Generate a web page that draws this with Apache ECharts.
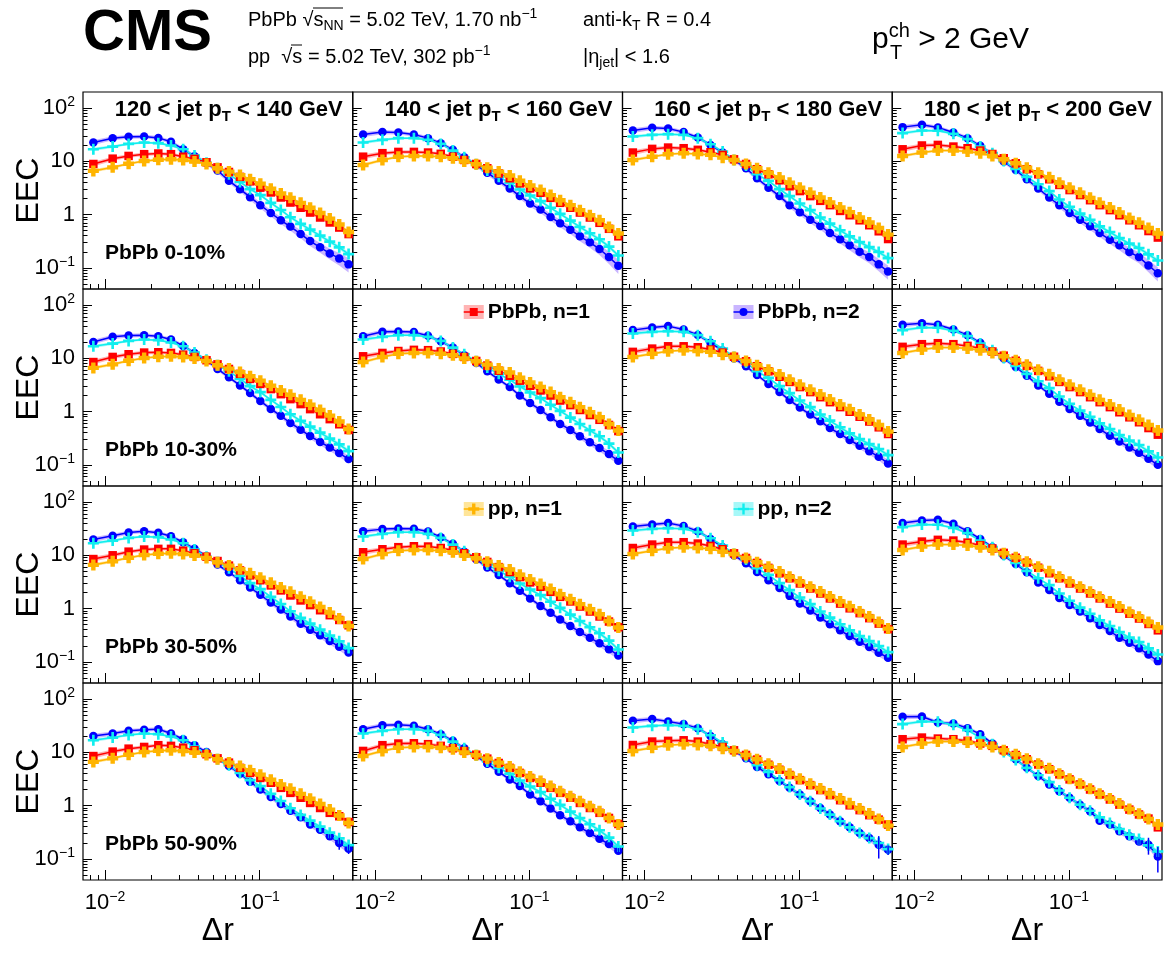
<!DOCTYPE html>
<html>
<head>
<meta charset="utf-8">
<script src="https://cdn.jsdelivr.net/npm/echarts@6/dist/echarts.min.js"></script>
<style>
html,body{margin:0;padding:0;background:#fff;}
#chart{width:1168px;height:954px;}
</style>
</head>
<body>
<div id="chart"></div>
<script>
// ---------------- data ----------------
const dr = [0.0084, 0.0112, 0.0142, 0.0179, 0.0221, 0.0267, 0.0320, 0.0379, 0.0453, 0.0534, 0.0633, 0.0746, 0.0867, 0.101, 0.118, 0.137, 0.158, 0.184, 0.212, 0.246, 0.284, 0.327, 0.376];
const jetPtLow = [120, 140, 160, 180];
const jetPtHigh = [140, 160, 180, 200];
const centralityBins = ['0-10%', '10-30%', '30-50%', '50-90%'];
const xRange = [0.0072, 0.4];
const yRange = [0.04, 200];
const xMajorTicks = [0.01, 0.1];
const xMinorTicks = [0.008, 0.009, 0.02, 0.03, 0.04, 0.05, 0.06, 0.07, 0.08, 0.09, 0.2, 0.3];
const yMajorTicks = [0.1, 1, 10, 100];
const yMinorTicks = [0.05, 0.06, 0.07, 0.08, 0.09, 0.2, 0.3, 0.4, 0.5, 0.6, 0.7, 0.8, 0.9, 2, 3, 4, 5, 6, 7, 8, 9, 20, 30, 40, 50, 60, 70, 80, 90];

// pp reference (same in every centrality row)
const ppN1_pt120 = [6.6, 7.7, 9.0, 10.1, 10.7, 10.9, 10.6, 9.9, 8.9, 7.4, 6.4, 5.5, 4.6, 3.8, 3.05, 2.49, 2.06, 1.66, 1.34, 1.07, 0.84, 0.65, 0.47];
const ppN2_pt120 = [16.8, 18.9, 21.2, 22.5, 21.9, 19.8, 16.8, 12.8, 9.4, 7.4, 5.7, 4.1, 3.0, 2.32, 1.66, 1.22, 0.89, 0.667, 0.521, 0.402, 0.310, 0.242, 0.181];
const ppN1_pt140 = [8.5, 10.6, 12.2, 12.6, 12.6, 12.2, 11.4, 9.9, 8.8, 7.6, 6.4, 5.4, 4.3, 3.5, 2.9, 2.32, 1.86, 1.50, 1.21, 0.97, 0.78, 0.585, 0.44];
const ppN2_pt140 = [22.5, 25.3, 27.2, 27.2, 25.3, 21.2, 15.9, 11.9, 8.8, 6.7, 5.1, 3.96, 2.96, 2.28, 1.79, 1.34, 1.03, 0.77, 0.585, 0.445, 0.343, 0.25, 0.17];
const ppN1_pt160 = [10.6, 12.2, 13.6, 14.2, 13.7, 13.2, 11.7, 10.6, 8.9, 7.4, 6.1, 4.95, 3.96, 3.2, 2.56, 2.09, 1.68, 1.36, 1.11, 0.88, 0.71, 0.56, 0.42];
const ppN2_pt160 = [29.2, 31.4, 32.3, 31.4, 27.2, 20.9, 15.2, 10.6, 8.3, 5.7, 4.3, 3.0, 2.22, 1.61, 1.21, 0.88, 0.676, 0.506, 0.390, 0.305, 0.245, 0.198, 0.152];
const ppN1_pt180 = [12.6, 14.6, 15.9, 15.9, 15.2, 14.2, 12.6, 10.9, 9.2, 7.6, 6.1, 5.0, 3.96, 3.2, 2.56, 2.06, 1.66, 1.36, 1.09, 0.86, 0.70, 0.56, 0.44];
const ppN2_pt180 = [33.8, 37.9, 37.4, 32.8, 26.0, 18.9, 14.2, 10.1, 7.2, 5.1, 3.7, 2.76, 1.92, 1.40, 1.04, 0.80, 0.60, 0.47, 0.363, 0.284, 0.235, 0.179, 0.137];

// PbPb n=1
const pbpbN1_0_10_pt120 = [8.9, 11.2, 12.6, 13.6, 14.0, 13.6, 12.2, 11.1, 9.6, 7.7, 6.3, 5.1, 4.2, 3.2, 2.6, 2.09, 1.68, 1.34, 1.09, 0.88, 0.71, 0.57, 0.43];
const pbpbN1_0_10_pt140 = [12.2, 14.2, 15.0, 15.0, 14.6, 13.8, 12.2, 10.6, 8.9, 7.4, 5.9, 4.8, 3.85, 3.1, 2.56, 2.06, 1.66, 1.34, 1.09, 0.88, 0.70, 0.54, 0.39];
const pbpbN1_0_10_pt160 = [14.6, 17.1, 18.1, 17.6, 16.4, 14.8, 13.2, 10.9, 8.9, 7.1, 5.7, 4.4, 3.4, 2.76, 2.22, 1.81, 1.50, 1.17, 0.97, 0.78, 0.63, 0.485, 0.347];
const pbpbN1_0_10_pt180 = [16.8, 19.8, 20.3, 18.9, 17.6, 15.9, 13.7, 11.4, 9.2, 7.1, 5.7, 4.6, 3.6, 2.88, 2.32, 1.86, 1.50, 1.21, 0.97, 0.78, 0.63, 0.49, 0.37];
const pbpbN1_10_30_pt120 = [8.5, 10.6, 11.9, 12.8, 13.0, 12.6, 11.7, 10.6, 9.2, 7.7, 6.3, 5.1, 4.1, 3.3, 2.64, 2.12, 1.71, 1.38, 1.11, 0.89, 0.72, 0.577, 0.451];
const pbpbN1_10_30_pt140 = [10.9, 12.6, 13.7, 14.4, 14.2, 13.4, 12.1, 10.6, 8.9, 7.3, 5.85, 4.7, 3.8, 3.05, 2.49, 2.00, 1.61, 1.32, 1.07, 0.86, 0.70, 0.56, 0.43];
const pbpbN1_10_30_pt160 = [13.2, 15.2, 16.8, 16.8, 16.1, 14.6, 12.8, 10.7, 8.8, 7.1, 5.7, 4.5, 3.6, 2.88, 2.32, 1.86, 1.50, 1.21, 0.99, 0.80, 0.65, 0.506, 0.379];
const pbpbN1_10_30_pt180 = [16.4, 18.4, 19.2, 18.4, 17.1, 15.5, 13.4, 11.2, 9.0, 7.2, 5.8, 4.6, 3.6, 2.88, 2.32, 1.86, 1.50, 1.21, 0.97, 0.78, 0.63, 0.49, 0.368];
const pbpbN1_30_50_pt120 = [8.5, 10.0, 11.7, 12.8, 13.2, 13.2, 12.2, 10.9, 9.4, 7.8, 6.4, 5.2, 4.2, 3.4, 2.72, 2.19, 1.76, 1.42, 1.16, 0.93, 0.75, 0.61, 0.485];
const pbpbN1_30_50_pt140 = [11.4, 13.0, 14.2, 14.8, 14.6, 13.7, 12.4, 10.9, 9.2, 7.5, 6.0, 4.85, 3.9, 3.1, 2.56, 2.06, 1.66, 1.36, 1.09, 0.88, 0.71, 0.57, 0.445];
const pbpbN1_30_50_pt160 = [13.7, 15.9, 17.6, 17.6, 16.6, 15.0, 13.0, 10.9, 8.9, 7.2, 5.8, 4.6, 3.7, 2.96, 2.38, 1.92, 1.55, 1.24, 1.01, 0.82, 0.66, 0.521, 0.41];
const pbpbN1_30_50_pt180 = [15.9, 18.1, 19.5, 18.9, 17.3, 15.5, 13.4, 11.1, 9.0, 7.3, 5.85, 4.6, 3.7, 2.96, 2.38, 1.92, 1.55, 1.24, 1.00, 0.80, 0.65, 0.514, 0.39];
const pbpbN1_50_90_pt120 = [8.5, 10.3, 11.7, 12.6, 13.6, 13.2, 12.2, 10.9, 9.2, 7.7, 6.4, 5.1, 4.1, 3.3, 2.68, 2.15, 1.73, 1.40, 1.12, 0.90, 0.73, 0.63, 0.49];
const pbpbN1_50_90_pt140 = [10.6, 13.6, 14.6, 14.8, 14.2, 13.2, 11.9, 10.6, 9.0, 7.6, 6.3, 5.1, 4.1, 3.3, 2.68, 2.15, 1.73, 1.40, 1.12, 0.90, 0.73, 0.585, 0.451];
const pbpbN1_50_90_pt160 = [13.7, 15.9, 16.4, 16.8, 15.9, 14.2, 12.6, 10.9, 8.9, 7.3, 5.85, 4.7, 3.75, 3.0, 2.42, 1.95, 1.57, 1.26, 1.01, 0.82, 0.66, 0.544, 0.44];
const pbpbN1_50_90_pt180 = [17.6, 18.9, 18.1, 17.6, 16.4, 14.6, 13.2, 10.9, 8.9, 7.4, 5.9, 4.8, 3.85, 3.1, 2.49, 2.00, 1.61, 1.30, 1.04, 0.84, 0.68, 0.57, 0.39];

// PbPb n=2
const pbpbN2_0_10_pt120 = [22.5, 27.2, 28.8, 29.2, 27.5, 23.2, 16.8, 12.4, 9.3, 6.7, 4.3, 3.0, 2.12, 1.50, 1.07, 0.78, 0.594, 0.432, 0.318, 0.242, 0.186, 0.150, 0.116];
const pbpbN2_0_10_pt140 = [31.8, 35.3, 34.7, 31.8, 27.2, 21.9, 16.4, 11.9, 8.5, 6.1, 4.3, 3.1, 2.22, 1.61, 1.24, 0.90, 0.686, 0.521, 0.390, 0.301, 0.225, 0.159, 0.109];
const pbpbN2_0_10_pt160 = [37.9, 42.6, 41.3, 35.3, 28.0, 20.3, 14.6, 10.6, 7.4, 4.8, 3.2, 2.22, 1.50, 1.11, 0.80, 0.611, 0.451, 0.343, 0.264, 0.200, 0.159, 0.116, 0.085];
const pbpbN2_0_10_pt180 = [43.8, 48.5, 43.2, 34.7, 27.2, 19.5, 13.7, 9.9, 6.9, 4.6, 3.1, 2.09, 1.50, 1.07, 0.80, 0.60, 0.45, 0.337, 0.264, 0.198, 0.159, 0.111, 0.079];
const pbpbN2_10_30_pt120 = [20.3, 25.3, 26.8, 27.2, 26.0, 22.5, 17.1, 12.6, 9.2, 6.3, 4.4, 3.1, 2.22, 1.57, 1.12, 0.83, 0.61, 0.457, 0.347, 0.268, 0.212, 0.166, 0.128];
const pbpbN2_10_30_pt140 = [26.0, 31.4, 31.8, 31.0, 26.4, 20.9, 15.9, 11.4, 8.2, 5.7, 4.0, 2.88, 2.00, 1.44, 1.07, 0.78, 0.585, 0.451, 0.343, 0.264, 0.206, 0.159, 0.119];
const pbpbN2_10_30_pt160 = [33.8, 37.9, 40.2, 34.7, 27.5, 19.5, 14.0, 10.0, 7.1, 4.85, 3.3, 2.32, 1.64, 1.19, 0.88, 0.66, 0.49, 0.379, 0.292, 0.228, 0.179, 0.142, 0.106];
const pbpbN2_10_30_pt180 = [42.6, 45.7, 42.6, 34.7, 27.2, 19.5, 13.7, 9.9, 6.9, 4.7, 3.1, 2.15, 1.52, 1.12, 0.83, 0.62, 0.47, 0.352, 0.275, 0.212, 0.168, 0.130, 0.100];
const pbpbN2_30_50_pt120 = [19.8, 23.2, 26.8, 28.4, 26.4, 22.8, 17.6, 13.2, 9.6, 6.7, 4.8, 3.4, 2.49, 1.81, 1.30, 0.96, 0.71, 0.521, 0.40, 0.314, 0.245, 0.192, 0.150];
const pbpbN2_30_50_pt140 = [28.4, 31.0, 31.8, 31.4, 28.0, 21.9, 16.4, 11.7, 8.4, 5.9, 4.25, 3.0, 2.15, 1.55, 1.12, 0.83, 0.62, 0.47, 0.363, 0.284, 0.222, 0.173, 0.132];
const pbpbN2_30_50_pt160 = [34.7, 37.9, 40.2, 35.3, 28.4, 20.3, 14.2, 10.0, 7.1, 4.85, 3.4, 2.42, 1.73, 1.24, 0.92, 0.68, 0.506, 0.39, 0.305, 0.238, 0.189, 0.148, 0.119];
const pbpbN2_30_50_pt180 = [40.2, 45.1, 46.4, 39.0, 28.4, 20.3, 14.2, 9.9, 6.9, 4.8, 3.1, 2.22, 1.57, 1.17, 0.88, 0.66, 0.49, 0.379, 0.284, 0.228, 0.179, 0.137, 0.103];
const pbpbN2_50_90_pt120 = [20.3, 22.5, 25.3, 26.4, 27.2, 22.5, 17.6, 13.6, 10.1, 7.7, 5.5, 3.96, 2.80, 2.00, 1.44, 1.07, 0.80, 0.60, 0.44, 0.352, 0.264, 0.198, 0.154];
const pbpbN2_50_90_pt140 = [27.2, 32.3, 32.8, 31.4, 27.2, 21.9, 16.4, 11.9, 8.5, 6.1, 4.3, 3.1, 2.32, 1.61, 1.21, 0.88, 0.66, 0.506, 0.39, 0.305, 0.238, 0.189, 0.142];
const pbpbN2_50_90_pt160 = [39.0, 42.0, 37.9, 33.8, 28.4, 20.3, 14.2, 10.6, 7.7, 5.3, 3.85, 2.88, 2.15, 1.61, 1.21, 0.90, 0.68, 0.506, 0.39, 0.305, 0.245, 0.184, 0.148];
const pbpbN2_50_90_pt180 = [46.4, 47.0, 36.3, 34.7, 28.4, 21.9, 14.6, 10.6, 7.4, 5.1, 3.6, 2.49, 1.86, 1.40, 1.04, 0.78, 0.521, 0.44, 0.328, 0.264, 0.212, 0.184, 0.111];

// relative statistical errors visible in the 50-90% PbPb n=2 panels
const pbpbN2Err_50_90_pt120 = [0,0,0,0,0,0,0,0,0,0,0,0,0,0,0,0,0,0,0,0,0.10,0.25,0.20];
const pbpbN2Err_50_90_pt140 = [0,0,0,0,0,0,0,0,0,0,0,0,0,0,0,0,0,0,0,0,0.06,0.10,0.12];
const pbpbN2Err_50_90_pt160 = [0,0,0,0,0,0,0,0,0,0,0,0,0,0,0,0,0,0,0,0,0.12,0.45,0.20];
const pbpbN2Err_50_90_pt180 = [0,0,0,0,0,0,0,0,0,0,0,0,0,0,0,0,0,0,0,0,0.12,0.35,0.50];

// relative systematic uncertainty (band half-width)
const sysPbpbN1 = [0.10,0.09,0.08,0.08,0.07,0.07,0.07,0.06,0.06,0.06,0.06,0.06,0.06,0.06,0.06,0.06,0.07,0.07,0.07,0.08,0.08,0.09,0.10];
const sysPbpbN2 = [0.10,0.09,0.08,0.08,0.08,0.08,0.08,0.08,0.08,0.08,0.08,0.08,0.09,0.09,0.10,0.10,0.11,0.11,0.12,0.13,0.14,0.15,0.17];
const sysPbpbN2Central = [0.10,0.09,0.08,0.08,0.08,0.08,0.08,0.09,0.09,0.10,0.10,0.11,0.12,0.13,0.14,0.15,0.16,0.17,0.19,0.21,0.23,0.26,0.30];
const sysPpN1 = [0.07,0.06,0.05,0.05,0.05,0.05,0.05,0.05,0.05,0.05,0.05,0.05,0.05,0.05,0.05,0.05,0.05,0.05,0.05,0.06,0.06,0.07,0.08];
const sysPpN2 = [0.07,0.06,0.05,0.05,0.05,0.05,0.05,0.05,0.05,0.05,0.05,0.05,0.06,0.06,0.06,0.06,0.06,0.07,0.07,0.07,0.08,0.08,0.09];

// ---------------- assembly ----------------
const ppN1 = [ppN1_pt120, ppN1_pt140, ppN1_pt160, ppN1_pt180];
const ppN2 = [ppN2_pt120, ppN2_pt140, ppN2_pt160, ppN2_pt180];
const pbpbN1 = [
  [pbpbN1_0_10_pt120, pbpbN1_0_10_pt140, pbpbN1_0_10_pt160, pbpbN1_0_10_pt180],
  [pbpbN1_10_30_pt120, pbpbN1_10_30_pt140, pbpbN1_10_30_pt160, pbpbN1_10_30_pt180],
  [pbpbN1_30_50_pt120, pbpbN1_30_50_pt140, pbpbN1_30_50_pt160, pbpbN1_30_50_pt180],
  [pbpbN1_50_90_pt120, pbpbN1_50_90_pt140, pbpbN1_50_90_pt160, pbpbN1_50_90_pt180]
];
const pbpbN2 = [
  [pbpbN2_0_10_pt120, pbpbN2_0_10_pt140, pbpbN2_0_10_pt160, pbpbN2_0_10_pt180],
  [pbpbN2_10_30_pt120, pbpbN2_10_30_pt140, pbpbN2_10_30_pt160, pbpbN2_10_30_pt180],
  [pbpbN2_30_50_pt120, pbpbN2_30_50_pt140, pbpbN2_30_50_pt160, pbpbN2_30_50_pt180],
  [pbpbN2_50_90_pt120, pbpbN2_50_90_pt140, pbpbN2_50_90_pt160, pbpbN2_50_90_pt180]
];
const pbpbN2Err50_90 = [pbpbN2Err_50_90_pt120, pbpbN2Err_50_90_pt140, pbpbN2Err_50_90_pt160, pbpbN2Err_50_90_pt180];

const FONT = '"Liberation Sans", Arial, Helvetica, sans-serif';
const BLUE = '#0000ff', RED = '#ff0000', ORANGE = '#ffb400', CYAN = '#10eeee';
const BAND_BLUE = 'rgba(120,70,255,0.40)', BAND_RED = 'rgba(255,40,40,0.35)';
const BAND_ORANGE = 'rgba(255,190,0,0.40)', BAND_CYAN = 'rgba(0,235,235,0.35)';
const SYM_THICK = 'path://M3,0H7V3H10V7H7V10H3V7H0V3H3Z';
const SYM_THIN = 'path://M3.8,0H6.2V3.8H10V6.2H6.2V10H3.8V6.2H0V3.8H3.8Z';

const L0 = 83, T0 = 92, CW = 269.75, CH = 197;

function expLabel(v) {
  const e = Math.round(Math.log10(v));
  if (e === 0) return '{b|1}';
  if (e === 1) return '{b|10}';
  return '{b|10}{s|' + (e < 0 ? '\u2212' : '') + Math.abs(e) + '}';
}
const labelRich = {
  b: {fontFamily: FONT, fontSize: 22, color: '#000', lineHeight: 26},
  s: {fontFamily: FONT, fontSize: 14, color: '#000', lineHeight: 14, verticalAlign: 'top'}
};

const option = {animation: false, backgroundColor: '#fff', grid: [], xAxis: [], yAxis: [], series: [], graphic: []};

for (let r = 0; r < 4; r++) {
  for (let c = 0; c < 4; c++) {
    const g = r * 4 + c;
    option.grid.push({left: L0 + c * CW, top: T0 + r * CH, width: CW, height: CH,
      show: true, borderColor: '#000', borderWidth: 1.2, backgroundColor: 'rgba(0,0,0,0)', outerBoundsMode: 'none'});
    const tickStyle = {color: '#000', width: 1};
    option.xAxis.push({type: 'log', logBase: 10, gridIndex: g, min: xRange[0], max: xRange[1], position: 'bottom',
      axisLine: {show: false}, splitLine: {show: false},
      axisTick: {show: true, inside: true, length: 10, customValues: xMajorTicks, lineStyle: tickStyle},
      axisLabel: {show: r === 3, customValues: xMajorTicks, formatter: expLabel, rich: labelRich, margin: 10},
      name: r === 3 ? '\u0394r' : '', nameLocation: 'middle', nameGap: 34,
      nameTextStyle: {fontFamily: FONT, fontSize: 32, color: '#000'}});
    option.xAxis.push({type: 'log', logBase: 10, gridIndex: g, min: xRange[0], max: xRange[1], position: 'bottom',
      axisLine: {show: false}, splitLine: {show: false},
      axisTick: {show: true, inside: true, length: 5, customValues: xMinorTicks, lineStyle: tickStyle},
      axisLabel: {show: false}});
    option.yAxis.push({type: 'log', logBase: 10, gridIndex: g, min: yRange[0], max: yRange[1], position: 'left',
      axisLine: {show: false}, splitLine: {show: false},
      axisTick: {show: true, inside: true, length: 9, customValues: yMajorTicks, lineStyle: tickStyle},
      axisLabel: {show: c === 0, customValues: yMajorTicks, formatter: expLabel, rich: labelRich, margin: 8},
      name: c === 0 ? 'EEC' : '', nameLocation: 'middle', nameGap: 38, nameRotate: 90, nameMoveOverlap: false,
      nameTextStyle: {fontFamily: FONT, fontSize: 32, color: '#000'}});
    option.yAxis.push({type: 'log', logBase: 10, gridIndex: g, min: yRange[0], max: yRange[1], position: 'left',
      axisLine: {show: false}, splitLine: {show: false},
      axisTick: {show: true, inside: true, length: 4.5, customValues: yMinorTicks, lineStyle: tickStyle},
      axisLabel: {show: false}});

    const sets = [
      {vals: pbpbN2[r][c], sys: r === 0 ? sysPbpbN2Central : sysPbpbN2, color: BLUE, band: BAND_BLUE, symbol: 'circle', size: 8.5, err: r === 3 ? pbpbN2Err50_90[c] : null},
      {vals: ppN2[c], sys: sysPpN2, color: CYAN, band: BAND_CYAN, symbol: SYM_THIN, size: 11, err: null},
      {vals: pbpbN1[r][c], sys: sysPbpbN1, color: RED, band: BAND_RED, symbol: 'rect', size: 8.5, err: null},
      {vals: ppN1[c], sys: sysPpN1, color: ORANGE, band: BAND_ORANGE, symbol: SYM_THICK, size: 11, err: null}
    ];
    sets.forEach(s => {
      option.series.push({
        type: 'custom', xAxisIndex: 2 * g, yAxisIndex: 2 * g, z: 1, silent: true, clip: true,
        data: dr.map((x, i) => [x, s.vals[i]]),
        renderItem: (params, api) => {
          if (params.dataIndex !== 0) return null;
          const upper = dr.map((x, i) => api.coord([x, s.vals[i] * (1 + s.sys[i])]));
          const lower = dr.map((x, i) => api.coord([x, s.vals[i] * (1 - s.sys[i])])).reverse();
          return {type: 'polygon', shape: {points: upper.concat(lower)}, style: {fill: s.band}};
        }
      });
    });
    sets.forEach(s => {
      if (s.err) {
        option.series.push({
          type: 'custom', xAxisIndex: 2 * g, yAxisIndex: 2 * g, z: 3, silent: true, clip: true,
          data: dr.map((x, i) => [x, s.vals[i]]),
          renderItem: (params, api) => {
            const i = params.dataIndex;
            if (!s.err[i]) return null;
            const p1 = api.coord([dr[i], s.vals[i] * (1 + s.err[i])]);
            const p2 = api.coord([dr[i], s.vals[i] * (1 - s.err[i])]);
            return {type: 'line', shape: {x1: p1[0], y1: p1[1], x2: p2[0], y2: p2[1]}, style: {stroke: s.color, lineWidth: 1.5}};
          }
        });
      }
      option.series.push({
        type: 'line', xAxisIndex: 2 * g, yAxisIndex: 2 * g, z: 2, silent: true,
        data: dr.map((x, i) => [x, s.vals[i]]),
        symbol: s.symbol, symbolSize: s.size, showSymbol: true,
        lineStyle: {color: s.color, width: 1.5}, itemStyle: {color: s.color, borderWidth: 0}
      });
    });
  }
}

// ---------------- texts ----------------
const G = option.graphic;
const txt = (x, y, text, rich, align) => G.push({type: 'text', x: x, y: y, z: 100,
  style: {text: text, rich: rich, align: align || 'left', verticalAlign: 'middle', fill: '#000'}});

const hdrRich = {
  n: {fontFamily: FONT, fontSize: 20, fill: '#000', lineHeight: 26},
  sub: {fontFamily: FONT, fontSize: 14, fill: '#000', lineHeight: 14, verticalAlign: 'bottom'},
  sup: {fontFamily: FONT, fontSize: 14, fill: '#000', lineHeight: 14, verticalAlign: 'top'}
};
txt(83, 34, '{c|CMS}', {c: {fontFamily: FONT, fontSize: 58, fontWeight: 'bold', fill: '#000'}});
txt(248, 20, '{n|PbPb \u221A}{n|s}{sub|NN}{n| = 5.02 TeV, 1.70 nb}{sup|\u22121}', hdrRich);
txt(248, 57, '{n|pp  \u221As = 5.02 TeV, 302 pb}{sup|\u22121}', hdrRich);
txt(583, 20, '{n|anti-k}{sub|T}{n| R = 0.4}', hdrRich);
txt(583, 57, '{n||\u03B7}{sub|jet}{n|| < 1.6}', hdrRich);
// overlines of the square roots
G.push({type: 'line', z: 100, shape: {x1: 313, y1: 8, x2: 343, y2: 8}, style: {stroke: '#000', lineWidth: 1}});
G.push({type: 'line', z: 100, shape: {x1: 291, y1: 45, x2: 302, y2: 45}, style: {stroke: '#000', lineWidth: 1}});
const ptRich = {
  p: {fontFamily: FONT, fontSize: 30, fill: '#000', lineHeight: 38},
  sup: {fontFamily: FONT, fontSize: 20, fill: '#000', lineHeight: 20, verticalAlign: 'top'}
};
txt(872, 40, '{p|p}{sup|ch}{p| > 2 GeV}', ptRich);
txt(890, 53, '{sub|T}', {sub: {fontFamily: FONT, fontSize: 20, fill: '#000'}});

const boldRich = {
  t: {fontFamily: FONT, fontSize: 21, fontWeight: 'bold', fill: '#000', lineHeight: 26},
  sub: {fontFamily: FONT, fontSize: 14, fontWeight: 'bold', fill: '#000', lineHeight: 12, verticalAlign: 'bottom'}
};
const titleRich = {
  t: {fontFamily: FONT, fontSize: 22, fontWeight: 'bold', fill: '#000', lineHeight: 28},
  sub: {fontFamily: FONT, fontSize: 15, fontWeight: 'bold', fill: '#000', lineHeight: 12, verticalAlign: 'bottom'}
};
for (let c = 0; c < 4; c++) {
  txt(L0 + (c + 1) * CW - 10, T0 + 18, '{t|' + jetPtLow[c] + ' < jet p}{sub|T}{t| < ' + jetPtHigh[c] + ' GeV}', titleRich, 'right');
}
for (let r = 0; r < 4; r++) {
  txt(L0 + 22, T0 + r * CH + 161, '{t|PbPb ' + centralityBins[r] + '}', boldRich);
}

// legend entries
function legendEntry(cx, cy, color, band, kind, label) {
  G.push({type: 'rect', z: 100, shape: {x: cx - 10, y: cy - 7, width: 20, height: 14}, style: {fill: band}});
  G.push({type: 'line', z: 101, shape: {x1: cx - 10, y1: cy, x2: cx + 10, y2: cy}, style: {stroke: color, lineWidth: 1.5}});
  if (kind === 'circle') {
    G.push({type: 'circle', z: 102, shape: {cx: cx, cy: cy, r: 4}, style: {fill: color}});
  } else if (kind === 'rect') {
    G.push({type: 'rect', z: 102, shape: {x: cx - 4, y: cy - 4, width: 8, height: 8}, style: {fill: color}});
  } else {
    const a = kind === 'thick' ? 1.7 : 1.2;
    G.push({type: 'rect', z: 102, shape: {x: cx - 5.5, y: cy - a, width: 11, height: 2 * a}, style: {fill: color}});
    G.push({type: 'rect', z: 102, shape: {x: cx - a, y: cy - 5.5, width: 2 * a, height: 11}, style: {fill: color}});
  }
  txt(cx + 14, cy, '{t|' + label + '}', boldRich);
}
legendEntry(L0 + CW + 121, T0 + CH + 23, RED, BAND_RED, 'rect', 'PbPb, n=1');
legendEntry(L0 + 2 * CW + 121, T0 + CH + 23, BLUE, BAND_BLUE, 'circle', 'PbPb, n=2');
legendEntry(L0 + CW + 121, T0 + 2 * CH + 23, ORANGE, BAND_ORANGE, 'thick', 'pp, n=1');
legendEntry(L0 + 2 * CW + 121, T0 + 2 * CH + 23, CYAN, BAND_CYAN, 'thin', 'pp, n=2');

const chart = echarts.init(document.getElementById('chart'), null, {renderer: 'canvas'});
chart.setOption(option);
</script>
</body>
</html>
